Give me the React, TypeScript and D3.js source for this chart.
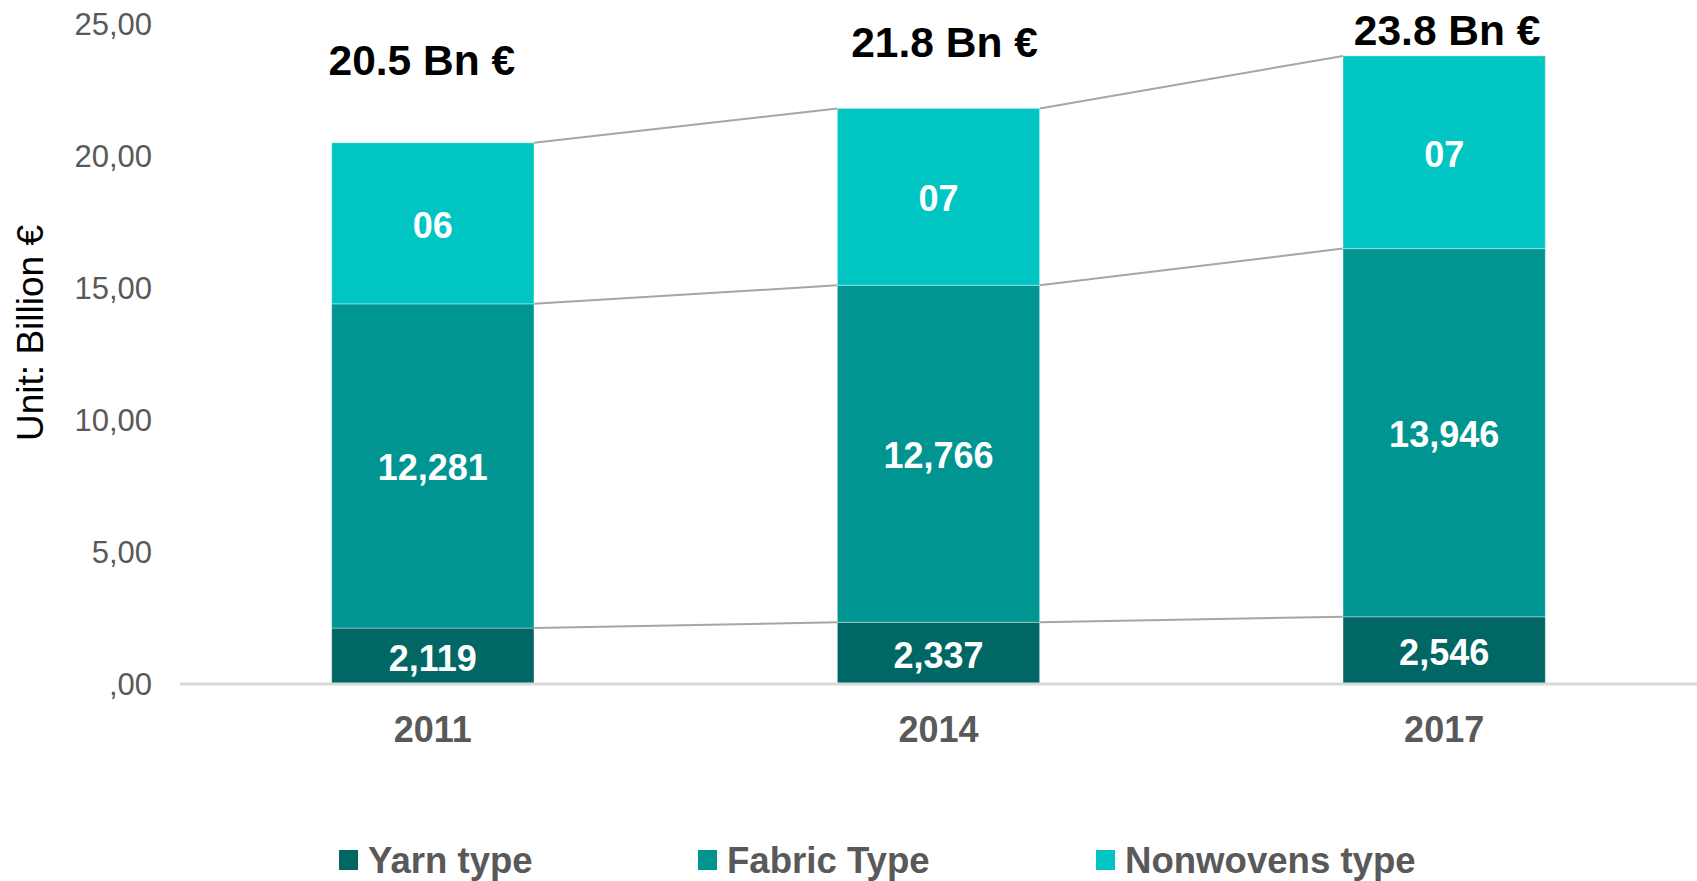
import React from 'react'
import * as d3 from 'd3'

const years = ['2011', '2014', '2017']
const yarn = [2.119, 2.337, 2.546]
const fabric = [12.281, 12.766, 13.946]
const nonwovens = [6.1, 6.7, 7.3]
const yarnLabels = ['2,119', '2,337', '2,546']
const fabricLabels = ['12,281', '12,766', '13,946']
const nonwovensLabels = ['06', '07', '07']
const totalLabels = ['20.5 Bn €', '21.8 Bn €', '23.8 Bn €']
const totalLabelAt = [23.05, 23.75, 24.2]
const yTicks = [0, 5, 10, 15, 20, 25]
const seriesNames = ['Yarn type', 'Fabric Type', 'Nonwovens type']
const colors = ['#006764', '#009591', '#00C5C2']

const W = 1697
const H = 881
const FONT = '"Liberation Sans", Arial, sans-serif'

const App = () => {
  const x = d3.scaleBand().domain(years).range([180, W]).paddingInner(0.6).paddingOuter(0.3)
  const y = d3.scaleLinear().domain([0, 25]).range([684, 24])
  const bw = x.bandwidth()

  const rows = years.map((yr, i) => ({ year: yr, yarn: yarn[i], fabric: fabric[i], nonwovens: nonwovens[i] }))
  const stack = d3.stack<any>().keys(['yarn', 'fabric', 'nonwovens'])(rows)
  const labels = [yarnLabels, fabricLabels, nonwovensLabels]

  const fmt = (v: number) => d3.format('.2f')(v).replace('.', ',').replace(/^0/, '')

  const legendX = [339, 698, 1096]

  return (
    <svg width={W} height={H} style={{ position: 'absolute', left: 0, top: 0, background: '#fff' }} fontFamily={FONT}>
      {yTicks.map((t) => (
        <text key={t} x={152} y={y(t)} textAnchor="end" dominantBaseline="central" fontSize={31} fill="#595959">
          {fmt(t)}
        </text>
      ))}
      <text transform={`translate(43, 333) rotate(-90)`} textAnchor="middle" fontSize={37} fill="#000">
        Unit: Billion €
      </text>

      {/* connector lines between bar levels */}
      {stack.map((s, si) =>
        s.slice(0, -1).map((d, i) => (
          <line
            key={`c${si}-${i}`}
            x1={(x(years[i]) as number) + bw}
            y1={y(d[1])}
            x2={x(years[i + 1]) as number}
            y2={y(s[i + 1][1])}
            stroke="#A6A6A6"
            strokeWidth={2}
          />
        ))
      )}

      {stack.map((s, si) => (
        <g key={si}>
          {s.map((d, i) => (
            <g key={i}>
              <rect
                x={x(years[i])}
                y={y(d[1])}
                width={bw}
                height={y(d[0]) - y(d[1])}
                fill={colors[si]}
                stroke="#ffffff"
                strokeOpacity={0.35}
                strokeWidth={1}
              />
              <text
                x={(x(years[i]) as number) + bw / 2}
                y={(y(d[0]) + y(d[1])) / 2 + 2}
                textAnchor="middle"
                dominantBaseline="central"
                fontSize={36}
                fontWeight="bold"
                fill="#fff"
              >
                {labels[si][i]}
              </text>
            </g>
          ))}
        </g>
      ))}

      <line x1={180} x2={W} y1={y(0)} y2={y(0)} stroke="#D9D9D9" strokeWidth={3} />

      {years.map((yr) => (
        <text key={yr} x={(x(yr) as number) + bw / 2} y={742} textAnchor="middle" fontSize={36} fontWeight="bold" fill="#595959">
          {yr}
        </text>
      ))}

      {years.map((yr, i) => (
        <text
          key={`t${yr}`}
          x={(x(yr) as number) + bw / 2 - [11, -6, -3][i]}
          y={y(totalLabelAt[i])}
          textAnchor="middle"
          fontSize={42.5}
          fontWeight="bold"
          fill="#000"
        >
          {totalLabels[i]}
        </text>
      ))}

      {seriesNames.map((n, i) => (
        <g key={n} transform={`translate(${legendX[i]}, 850)`}>
          <rect width={19} height={20} fill={colors[i]} />
          <text x={29} y={23} fontSize={36.6} fontWeight="bold" fill="#595959">
            {n}
          </text>
        </g>
      ))}
    </svg>
  )
}

export default App
